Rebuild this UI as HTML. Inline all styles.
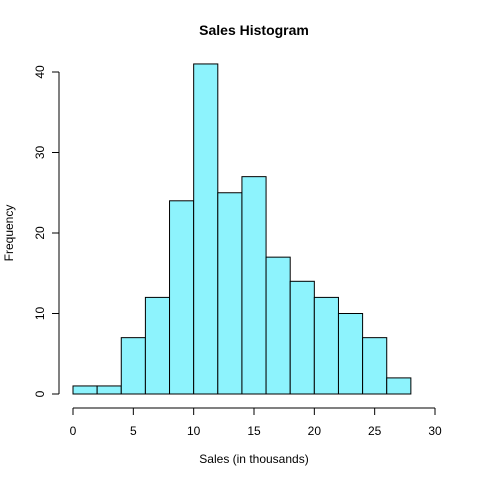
<!DOCTYPE html>
<html><head><meta charset="utf-8"><style>
body{margin:0;background:#fff}
svg{display:block;font-family:"Liberation Sans",Arial,sans-serif}
</style></head><body>
<svg id="c" width="480" height="480">
<text x="254" y="35" text-anchor="middle" font-size="14" font-weight="bold">Sales Histogram</text>
<text x="254" y="463" text-anchor="middle" font-size="12">Sales (in thousands)</text>
<text transform="translate(13,233) rotate(-90)" text-anchor="middle" font-size="12">Frequency</text>
<g id="bars"></g>
<g id="xaxis"></g>
<g id="yaxis"></g>
</svg>
<script>
const binStarts=[0,2,4,6,8,10,12,14,16,18,20,22,24,26];
const binWidth=2;
const counts=[1,1,7,12,24,41,25,27,17,14,12,10,7,2];
const xTicks=[0,5,10,15,20,25,30];
const yTicks=[0,10,20,30,40];
const NS="http://www.w3.org/2000/svg";
const xs=v=>73+v*(435-73)/30;
const ys=v=>394-v*(394-72)/40;
function mk(tag,attrs,parent){const e=document.createElementNS(NS,tag);for(const k in attrs)e.setAttribute(k,attrs[k]);parent.appendChild(e);return e;}
const bars=document.getElementById('bars');
binStarts.forEach((s,i)=>{
 const r=mk('rect',{x:xs(s),y:ys(counts[i]),width:xs(s+binWidth)-xs(s),height:ys(0)-ys(counts[i]),fill:'#8DF3FD',stroke:'#000','stroke-width':1},bars);
 
 
});
const xa=document.getElementById('xaxis');
mk('line',{x1:xs(xTicks[0]),x2:xs(xTicks[xTicks.length-1]),y1:408,y2:408,stroke:'#000'},xa);
xTicks.forEach(t=>{
 mk('line',{x1:xs(t),x2:xs(t),y1:408,y2:415,stroke:'#000'},xa);
 const tx=mk('text',{x:xs(t),y:435,'text-anchor':'middle','font-size':12},xa);
 tx.textContent=t;
 
 
});
const ya=document.getElementById('yaxis');
mk('line',{x1:59,x2:59,y1:ys(yTicks[0]),y2:ys(yTicks[yTicks.length-1]),stroke:'#000'},ya);
yTicks.forEach(t=>{
 mk('line',{x1:52,x2:59,y1:ys(t),y2:ys(t),stroke:'#000'},ya);
 const tx=mk('text',{transform:`translate(44,${ys(t)}) rotate(-90)`,'text-anchor':'middle','font-size':12},ya);
 tx.textContent=t;
 
 
});
</script>
</body></html>
